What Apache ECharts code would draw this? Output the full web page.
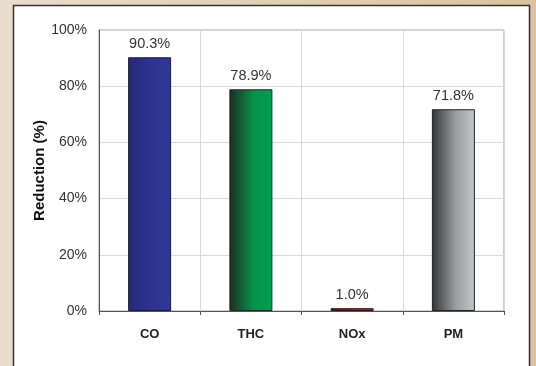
<!DOCTYPE html>
<html><head><meta charset="utf-8">
<script src="https://cdn.jsdelivr.net/npm/echarts@6/dist/echarts.min.js"></script>
<style>html,body{margin:0;padding:0;}#c{width:536px;height:366px;}</style>
</head><body><div id="c"></div>
<script>
const categories = ['CO', 'THC', 'NOx', 'PM'];
const reductions = [90.3, 78.9, 1.0, 71.8];
const yTicks = [0, 20, 40, 60, 80, 100];
const barGradients = [
  ['#26287a', '#2e3391', '#2f3896'],
  ['#1b2e22', '#05914a', '#00a050'],
  ['#4a1515', '#c01e1e', '#d42222'],
  ['#333333', '#9a9da0', '#c2c6ca']
];
const barBorders = ['#1a1a40', '#1a2a1e', '#3a1010', '#222222'];
function grad(c){
  return new echarts.graphic.LinearGradient(0,0,1,0,[
    {offset:0,color:c[0]},{offset:0.55,color:c[1]},{offset:1,color:c[2]}]);
}
const chart = echarts.init(document.getElementById('c'), null, {renderer:'canvas'});
chart.setOption({
  backgroundColor: new echarts.graphic.LinearGradient(0,0,1,0,[
    {offset:0,color:'#e9ddcc'},{offset:1,color:'#dbc39f'}]),
  animation:false,
  graphic:[{type:'rect', z:-10, shape:{x:13.5,y:5.5,width:516,height:380},
    style:{fill:'#ffffff', stroke:'#333333', lineWidth:1.5}}],
  grid:{left:99, top:30, right:32, bottom:55, show:true, borderColor:'#a0a0a0', borderWidth:1, backgroundColor:'#ffffff'},
  xAxis:{type:'category', data:categories,
    axisLine:{lineStyle:{color:'#555555'}},
    axisTick:{show:true, length:4, lineStyle:{color:'#555555'}},
    splitLine:{show:true, lineStyle:{color:'#d9d9d9'}},
    axisLabel:{color:'#222222', fontFamily:'Liberation Sans, Arial', fontWeight:'bold', fontSize:13, margin:17}},
  yAxis:{type:'value', min:yTicks[0], max:yTicks[yTicks.length-1], interval:20,
    name:'Reduction (%)', nameLocation:'middle', nameGap:52, nameMoveOverlap:false,
    nameTextStyle:{color:'#111111', fontFamily:'Liberation Sans, Arial', fontWeight:'bold', fontSize:15},
    axisLine:{show:true, lineStyle:{color:'#555555'}},
    axisTick:{show:false},
    splitLine:{lineStyle:{color:'#d9d9d9'}},
    axisLabel:{formatter:'{value}%', color:'#333333', fontFamily:'Liberation Sans, Arial', fontSize:14, margin:12}},
  series:[{type:'bar', barWidth:43,
    data: reductions.map((v,i)=>({value:v, itemStyle:{color:grad(barGradients[i]), borderColor:barBorders[i], borderWidth:1}})),
    label:{show:true, position:'top', distance:6, formatter:p=>p.value.toFixed(1)+'%',
      color:'#333333', fontFamily:'Liberation Sans, Arial', fontSize:14.5}}]
});
</script></body></html>
